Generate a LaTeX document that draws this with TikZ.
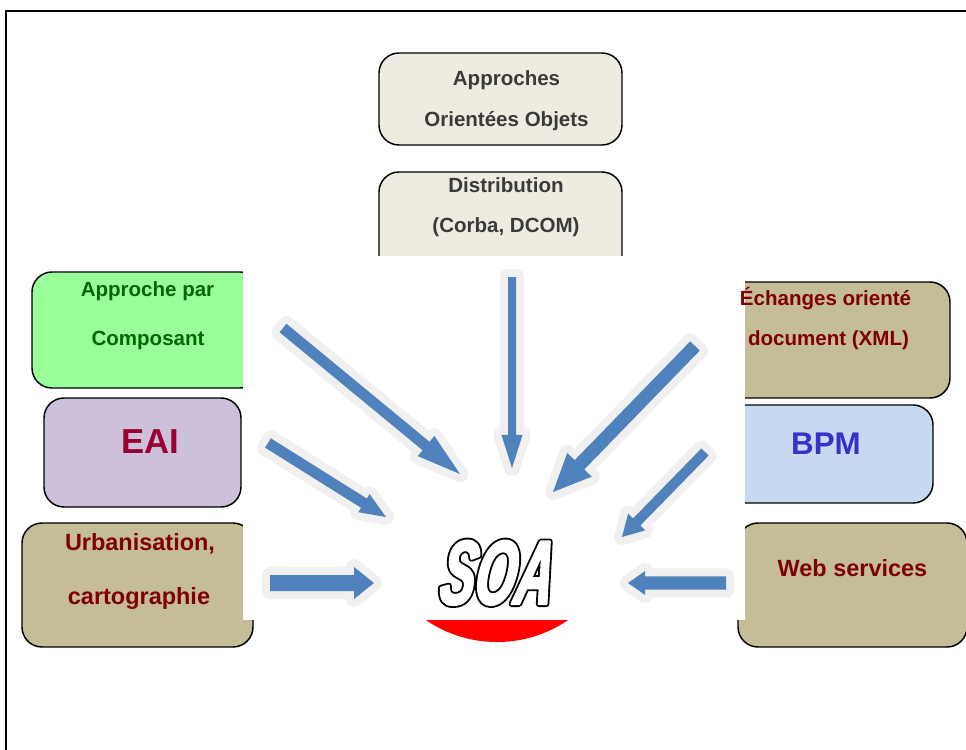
\documentclass[tikz,border=0pt]{standalone}
\usepackage{fontspec}
\setmainfont{Liberation Sans}
\newfontfamily\soalogo{Liberation Sans}[FakeStretch=0.57, FakeSlant=0.15]
\usetikzlibrary{calc}

\definecolor{paleframe}{HTML}{EEECE1}
\definecolor{greybrown}{HTML}{3A3A3A}
\definecolor{compgreen}{HTML}{99FF99}
\definecolor{compdark}{HTML}{006600}
\definecolor{eaifill}{HTML}{CCC0DA}
\definecolor{eaitext}{HTML}{990033}
\definecolor{tanfill}{HTML}{C4BD97}
\definecolor{maroon}{HTML}{800000}
\definecolor{bpmfill}{HTML}{C6D9F1}
\definecolor{bpmtext}{HTML}{3333CC}
\definecolor{arrowblue}{HTML}{4F81BD}
\definecolor{arrowglow}{HTML}{F0F0F0}
\definecolor{soared}{HTML}{FF0000}

\tikzset{
  box/.style={draw=black, line width=1.1pt, rounded corners=15pt,
    inner sep=0pt, outer sep=0pt},
  label/.style={font=\bfseries\fontsize{15.4}{18}\selectfont, anchor=base,
    inner sep=0pt},
  biglabel/.style={font=\bfseries\fontsize{17.6}{20}\selectfont, anchor=base,
    inner sep=0pt},
  hugelabel/.style={font=\bfseries\fontsize{26}{30}\selectfont, anchor=base,
    inner sep=0pt},
  arrowbody/.style={fill=arrowblue,
    preaction={draw=arrowglow, line width=12pt, line join=round}},
  soafont/.style={font=\soalogo\bfseries\itshape\fontsize{68}{70}\selectfont,
    anchor=base, inner sep=0pt},
}

% hollow, heavy lettering: a wide black stroke under a thinner white one
\newcommand\hollowtext[1]{%
  \rlap{\special{pdf:literal direct q 2 Tr 4.6 w 1 J 1 j 0 g 0 G}#1\special{pdf:literal direct Q}}%
  \special{pdf:literal direct q 2 Tr 1.8 w 1 J 1 j 1 g 1 G}#1\special{pdf:literal direct Q}}

% block arrow: tail, tip, half shaft width, half head width, head length
\newcommand\flowarrow[5]{%
  \coordinate (fa-b) at ($(#2)!#5!(#1)$);
  \path[arrowbody] ($(#1)!#3!90:(#2)$) -- ($(fa-b)!#3!90:(#2)$)
    -- ($(fa-b)!#4!90:(#2)$) -- (#2) -- ($(fa-b)!#4!-90:(#2)$)
    -- ($(fa-b)!#3!-90:(#2)$) -- ($(#1)!#3!-90:(#2)$) -- cycle;
}

\begin{document}
\begin{tikzpicture}[x=0.75pt, y=-0.75pt]
  \useasboundingbox (0,0) rectangle (966,749);
  \clip (0,0) rectangle (966,749);
  \fill[white] (0,0) rectangle (966,749);

  % page frame
  \draw[line width=1.5pt] (6,760) -- (6,11) -- (980,11);

  % boxes
  \node[box, fill=paleframe, minimum width=182.25pt, minimum height=69pt]
    (b-obj) at (500.5,99) {};
  \node[box, fill=paleframe, minimum width=182.25pt, minimum height=88.5pt]
    (b-dist) at (500.5,231) {};
  \node[box, fill=compgreen, minimum width=171pt, minimum height=87pt]
    (b-comp) at (146,330) {};
  \node[box, fill=eaifill, minimum width=147.75pt, minimum height=81.75pt]
    (b-eai) at (142.5,452.5) {};
  \node[box, fill=tanfill, minimum width=173.25pt, minimum height=93pt]
    (b-urb) at (137.5,585) {};
  \node[box, fill=tanfill, minimum width=172.5pt, minimum height=87pt]
    (b-xml) at (835,340) {};
  \node[box, fill=bpmfill, minimum width=159.75pt, minimum height=73.5pt]
    (b-bpm) at (826.5,454) {};
  \node[box, fill=tanfill, minimum width=171.75pt, minimum height=93pt]
    (b-ws) at (852.5,585) {};

  % red disc behind the logo
  \fill[soared] (497,516) circle[radius=94.5pt];

  % white panel over the centre
  \fill[white] (243,256) rectangle (745,620);

  % arrows towards the logo
  \coordinate (a1-tail) at (283,328);  \coordinate (a1-tip) at (460,474);
  \coordinate (a2-tail) at (512,277);  \coordinate (a2-tip) at (512,468);
  \coordinate (a3-tail) at (695,346);  \coordinate (a3-tip) at (553,492);
  \coordinate (a4-tail) at (268,443);  \coordinate (a4-tip) at (386,517);
  \coordinate (a5-tail) at (270,583);  \coordinate (a5-tip) at (374,583);
  \coordinate (a6-tail) at (705,452);  \coordinate (a6-tip) at (622,537);
  \coordinate (a7-tail) at (726,583);  \coordinate (a7-tip) at (628,583);

  \flowarrow{a1-tail}{a1-tip}{4.1pt}{9.8pt}{33pt}
  \flowarrow{a2-tail}{a2-tip}{3pt}{7.9pt}{24.8pt}
  \flowarrow{a3-tail}{a3-tip}{5pt}{12.8pt}{28.5pt}
  \flowarrow{a4-tail}{a4-tip}{4.1pt}{8pt}{19.5pt}
  \flowarrow{a5-tail}{a5-tip}{6pt}{12pt}{15pt}
  \flowarrow{a6-tail}{a6-tip}{3.8pt}{9pt}{15.8pt}
  \flowarrow{a7-tail}{a7-tip}{4.9pt}{9pt}{12.8pt}

  % outlined SOA logo
  \node[soafont] (soa) at (494,604) {\hollowtext{SOA}};

  % labels
  \node[label, text=greybrown] (t-obj1) at (506.5,85) {Approches};
  \node[label, text=greybrown] (t-obj2) at (506.5,126) {Orientées Objets};
  \node[label, text=greybrown] (t-dist1) at (506,192) {Distribution};
  \node[label, text=greybrown] (t-dist2) at (506,232) {(Corba, DCOM)};
  \node[label, text=compdark] (t-comp1) at (147.5,296) {Approche par};
  \node[label, text=compdark] (t-comp2) at (148,345) {Composant};
  \node[hugelabel, text=eaitext] (t-eai) at (150,453) {EAI};
  \node[biglabel, text=maroon] (t-urb1) at (140,550) {Urbanisation,};
  \node[biglabel, text=maroon] (t-urb2) at (139,604) {cartographie};
  \node[label, text=maroon] (t-xml1) at (825.5,305) {Échanges orienté};
  \node[label, text=maroon] (t-xml2) at (828.5,345) {document (XML)};
  \node[font=\bfseries\fontsize{23.5}{27}\selectfont, anchor=base,
    inner sep=0pt, text=bpmtext] (t-bpm) at (826,454) {BPM};
  \node[biglabel, text=maroon] (t-ws) at (852.5,576) {Web services};
\end{tikzpicture}
\end{document}
